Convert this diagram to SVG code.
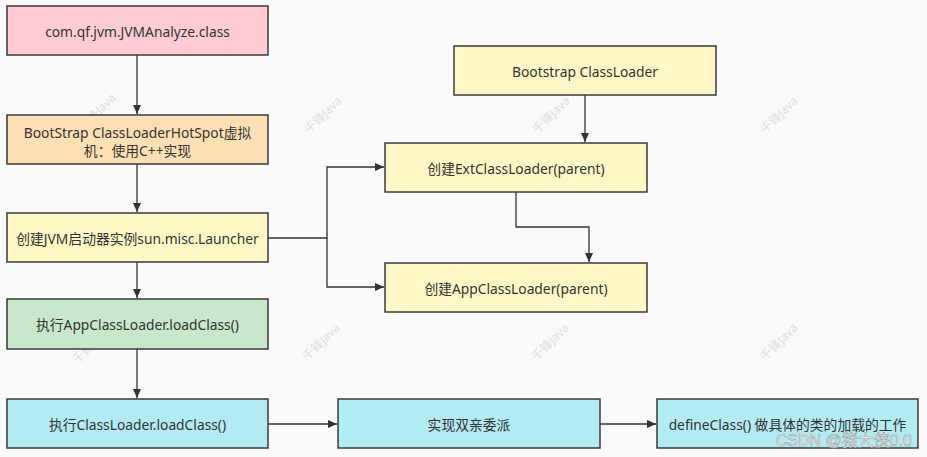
<svg xmlns="http://www.w3.org/2000/svg" width="927" height="457" viewBox="0 0 927 457">
<style>
.box{stroke:#3a3a3a;stroke-width:1.5}
.t{font-family:"Noto Sans","Noto Sans CJK SC",sans-serif;font-size:13.8px;fill:#333;text-anchor:middle;dominant-baseline:central}
.c{fill:none;stroke:#333;stroke-width:1.3}
.wm{font-family:"Noto Sans","Noto Sans CJK SC",sans-serif;font-size:12px;fill:#e0e0e0;text-anchor:middle}
</style>
<defs>
<marker id="ar" markerWidth="10" markerHeight="10" refX="9" refY="5" orient="auto" markerUnits="userSpaceOnUse">
<path d="M0,1 L9,5 L0,9 Z" fill="#333"/>
</marker>
</defs>
<rect width="927" height="457" fill="#fafafa"/>
<g id="watermarks">
<text class="wm" transform="translate(100,115) rotate(-45)">千锋Java</text>
<text class="wm" transform="translate(326,118) rotate(-45)">千锋Java</text>
<text class="wm" transform="translate(554,118) rotate(-45)">千锋Java</text>
<text class="wm" transform="translate(782,118) rotate(-45)">千锋Java</text>
<text class="wm" transform="translate(94,348) rotate(-45)">千锋Java</text>
<text class="wm" transform="translate(324,345) rotate(-45)">千锋Java</text>
<text class="wm" transform="translate(553,345) rotate(-45)">千锋Java</text>
<text class="wm" transform="translate(782,345) rotate(-45)">千锋Java</text>
</g>
<g id="connectors">
<path class="c" d="M137,55 V114" marker-end="url(#ar)"/>
<path class="c" d="M137,164 V212" marker-end="url(#ar)"/>
<path class="c" d="M137,262 V298" marker-end="url(#ar)"/>
<path class="c" d="M137,349 V398" marker-end="url(#ar)"/>
<path class="c" d="M268,238 H327 V167 H384" marker-end="url(#ar)"/>
<path class="c" d="M327,238 V287 H384" marker-end="url(#ar)"/>
<path class="c" d="M585,95 V142" marker-end="url(#ar)"/>
<path class="c" d="M516,192 V227 H589 V262" marker-end="url(#ar)"/>
<path class="c" d="M268,424 H337" marker-end="url(#ar)"/>
<path class="c" d="M600,424 H656" marker-end="url(#ar)"/>
</g>
<g id="n1"><rect class="box" x="7" y="6" width="261" height="49" fill="#ffccd4"/><text class="t" x="137.5" y="31">com.qf.jvm.JVMAnalyze.class</text></g>
<g id="n2"><rect class="box" x="7" y="115" width="261" height="49" fill="#ffe0b4"/><text class="t" x="137.5" y="132">BootStrap ClassLoaderHotSpot虚拟</text><text class="t" x="137.5" y="150">机：使用C++实现</text></g>
<g id="n3"><rect class="box" x="7" y="213" width="261" height="49" fill="#fff8c6"/><text class="t" x="137.5" y="238">创建JVM启动器实例sun.misc.Launcher</text></g>
<g id="n4"><rect class="box" x="7" y="299" width="261" height="50" fill="#c9e7cb"/><text class="t" x="137.5" y="324">执行AppClassLoader.loadClass()</text></g>
<g id="n5"><rect class="box" x="7" y="399" width="261" height="49" fill="#b3ebf2"/><text class="t" x="137.5" y="424">执行ClassLoader.loadClass()</text></g>
<g id="n6"><rect class="box" x="338" y="399" width="262" height="49" fill="#b3ebf2"/><text class="t" x="469" y="424">实现双亲委派</text></g>
<g id="n7"><rect class="box" x="657" y="399" width="261" height="49" fill="#b3ebf2"/><text class="t" x="787.5" y="424">defineClass() 做具体的类的加载的工作</text></g>
<g id="n8"><rect class="box" x="454" y="46" width="262" height="49" fill="#fff8c6"/><text class="t" x="585" y="71">Bootstrap ClassLoader</text></g>
<g id="n9"><rect class="box" x="385" y="143" width="262" height="49" fill="#fff8c6"/><text class="t" x="516" y="168">创建ExtClassLoader(parent)</text></g>
<g id="n10"><rect class="box" x="385" y="263" width="262" height="49" fill="#fff8c6"/><text class="t" x="516" y="288">创建AppClassLoader(parent)</text></g>
<text x="912" y="446" font-family="'Liberation Sans','Noto Sans CJK SC',sans-serif" font-size="16" fill="#ffffff" stroke="#9a9a9a" stroke-width="0.6" text-anchor="end">CSDN @猪大侠0.0</text>
</svg>
